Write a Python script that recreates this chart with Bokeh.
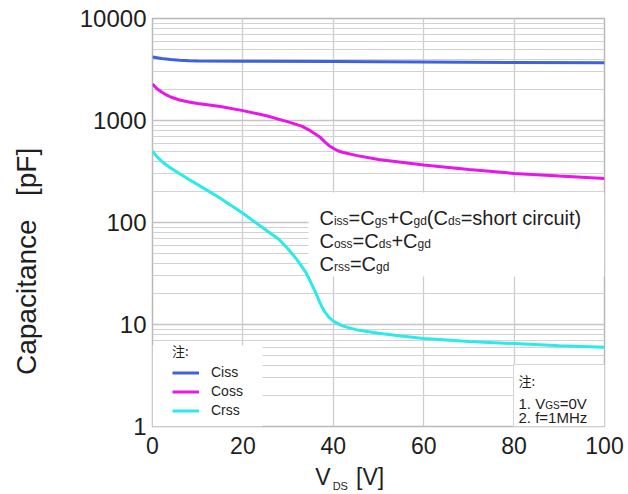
from bokeh.embed import file_html
from bokeh.models import (FixedTicker, Label, Legend, LegendItem, LinearAxis,
                          PrintfTickFormatter)
from bokeh.plotting import figure
from bokeh.resources import INLINE

# ---- data: capacitance (pF) versus drain-source voltage (V) ----
vds_ciss = [0, 2, 4, 6, 8, 10, 20, 40, 60, 80, 100]
ciss = [4200, 4060, 3960, 3900, 3860, 3840, 3820, 3790, 3750, 3710, 3680]

vds_coss = [0, 1, 2, 3, 4, 6, 8, 10, 15, 20, 25, 30, 33, 35, 37, 38, 39, 40, 41, 42,
            45, 50, 55, 60, 70, 80, 90, 100]
coss = [2280, 2050, 1900, 1790, 1700, 1590, 1520, 1470, 1370, 1250, 1120, 970, 880, 790,
        690, 625, 570, 535, 505, 488, 455, 415, 390, 366, 330, 303, 285, 270]

vds_crss = [0, 1, 2, 3, 4, 6, 8, 10, 15, 20, 25, 28, 30, 32, 34, 35, 36, 37, 38, 39, 40,
            42, 45, 50, 55, 60, 70, 80, 90, 100]
crss = [500, 442, 400, 368, 342, 300, 265, 235, 173, 123, 85, 68, 55, 43, 32, 26, 21,
        16.5, 13.5, 11.8, 10.8, 9.7, 8.9, 8.2, 7.7, 7.3, 6.8, 6.5, 6.2, 6.0]

x_ticks = [0, 20, 40, 60, 80, 100]
y_ticks = [1, 10, 100, 1000, 10000]
y_minor = [m * 10 ** e for e in range(4) for m in range(2, 10)]

# ---- page geometry (pixels) ----
W, H = 628, 494
FL, FR, FT, FB = 152, 604, 18, 426
FONT = "Liberation Sans"
CJK = "Noto Sans CJK SC"
TXT = "#1e1e1e"
NB = "\u00a0"


def vx(px):
    """Horizontal pixel -> voltage."""
    return (px - FL) / (FR - FL) * 100.0


def cy(py):
    """Vertical pixel -> capacitance on the log axis."""
    return 10 ** (4 - (py - FT) / (FB - FT) * 4)


# Arial / Liberation Sans advance widths (1/1000 em)
ADV = {" ": 278, "(": 333, ")": 333, "+": 584, ".": 278, ":": 278, "=": 584,
       "C": 722, "D": 722, "F": 611, "G": 778, "H": 722, "M": 833, "S": 667, "V": 667,
       "[": 278, "]": 278, "a": 556, "c": 500, "d": 556, "e": 556, "f": 278, "g": 556,
       "h": 556, "i": 222, "n": 556, "o": 556, "p": 556, "r": 333, "s": 500, "t": 278,
       "u": 556, "z": 500}


def text_width(s, size):
    return sum(ADV.get(ch, 556) for ch in s) * size / 1000.0


p = figure(width=W, height=H, y_axis_type="log", x_range=(0, 100),
           y_range=(1, 10000), output_backend="svg", toolbar_location=None,
           min_border_left=FL, min_border_right=W - FR,
           min_border_top=FT, min_border_bottom=H - FB)
p.background_fill_color = "white"
p.border_fill_color = "white"
p.outline_line_color = "#b8b8b8"
p.outline_line_width = 1.5

p.xaxis.ticker = FixedTicker(ticks=x_ticks)
p.yaxis.ticker = FixedTicker(ticks=y_ticks, minor_ticks=y_minor)
p.yaxis.formatter = PrintfTickFormatter(format="%d")
for ax in (p.xaxis, p.yaxis):
    ax.axis_line_color = None
    ax.major_tick_line_color = None
    ax.minor_tick_line_color = None
    ax.major_tick_out = 0
    ax.minor_tick_out = 0
    ax.major_label_text_font = FONT
    ax.major_label_text_color = TXT
    ax.axis_label_text_font = FONT
    ax.axis_label_text_font_style = "normal"
    ax.axis_label_text_color = TXT
p.xaxis.major_label_text_font_size = "23px"
p.yaxis.major_label_text_font_size = "24px"
p.xaxis.major_label_standoff = 10
p.yaxis.major_label_standoff = 6

# vertical axis title; trailing no-break spaces push the words down the axis
p.yaxis.axis_label = "Capacitance" + NB * 3 + "[pF]" + NB * 10
p.yaxis.axis_label_text_font_size = "28px"
p.yaxis.axis_label_standoff = 35

# horizontal axis title "V  [V]"; its subscript "DS" rides on a bare second axis
p.xaxis.axis_label = "V" + NB * 4 + "[V]" + NB * 9
p.xaxis.axis_label_text_font_size = "23px"
p.xaxis.axis_label_standoff = 7

sub_axis = LinearAxis(ticker=FixedTicker(ticks=[]), axis_line_color=None,
                      major_tick_out=0, minor_tick_out=0, major_label_standoff=0,
                      axis_label="DS" + NB * 25, axis_label_text_font=FONT,
                      axis_label_text_font_size="11px",
                      axis_label_text_font_style="normal",
                      axis_label_text_color=TXT, axis_label_standoff=-13)
p.add_layout(sub_axis, "below")

p.xgrid.grid_line_color = "#cdcdcd"
p.ygrid.grid_line_color = "#c4c4c4"
p.ygrid.minor_grid_line_color = "#d2d2d2"
p.xgrid.grid_line_width = 1.3
p.ygrid.grid_line_width = 1.3

# white panels behind the annotation texts and the legend
p.quad(left=[vx(308)], right=[vx(FR)], bottom=[cy(276)], top=[cy(192)],
       fill_color="white", line_color=None)
p.quad(left=[0], right=[vx(262)], bottom=[1], top=[cy(345)],
       fill_color="white", line_color=None)
p.quad(left=[vx(513)], right=[100], bottom=[1], top=[cy(364)],
       fill_color="white", line_color="#d6d6d6", line_width=1)

r_ciss = p.line(vds_ciss, ciss, line_color="#3c62dc", line_width=3)
r_coss = p.line(vds_coss, coss, line_color="#e816e8", line_width=3)
r_crss = p.line(vds_crss, crss, line_color="#2aeaea", line_width=3)

legend = Legend(items=[LegendItem(label="Ciss", renderers=[r_ciss]),
                       LegendItem(label="Coss", renderers=[r_coss]),
                       LegendItem(label="Crss", renderers=[r_crss])],
                title="注:", location=(20, 8), orientation="vertical",
                glyph_width=27, glyph_height=15, label_height=15, spacing=3,
                padding=0, margin=0, label_standoff=12, title_standoff=4,
                label_text_font=FONT, label_text_font_size="14px", label_text_color=TXT,
                title_text_font=CJK, title_text_font_size="13px",
                title_text_font_style="normal", title_text_color=TXT,
                background_fill_alpha=0, border_line_alpha=0)
p.add_layout(legend)


def rich(parts, x_px, base_px, size, sub_size, sub_drop, font=FONT):
    """Lay out a run of text pieces; pieces flagged True are subscripts."""
    cur = x_px
    for txt, sub in parts:
        fs = sub_size if sub else size
        y = base_px + (sub_drop if sub else 0)
        p.add_layout(Label(x=vx(cur), y=cy(y), text=txt, text_font=font,
                           text_font_size=f"{fs}px", text_color=TXT,
                           text_align="left", text_baseline="alphabetic"))
        cur += text_width(txt, fs)


# capacitance definitions
rich([("C", False), ("iss", True), ("=C", False), ("gs", True), ("+C", False),
      ("gd", True), ("(C", False), ("ds", True), ("=short circuit)", False)],
     319, 217, 20, 12, 3)
rich([("C", False), ("oss", True), ("=C", False), ("ds", True), ("+C", False),
      ("gd", True)], 319, 240, 20, 12, 3)
rich([("C", False), ("rss", True), ("=C", False), ("gd", True)], 319, 263, 20, 12, 3)

# test-condition note
p.add_layout(Label(x=vx(518), y=cy(380), text="注:", text_font=CJK,
                   text_font_size="13px", text_color=TXT,
                   text_align="left", text_baseline="middle"))
rich([("1. V", False), ("GS", True), ("=0V", False)], 518, 403, 15, 10, 2)
rich([("2. f=1MHz", False)], 518, 417, 15, 10, 2)

open("out.html", "w").write(file_html(p, INLINE))
